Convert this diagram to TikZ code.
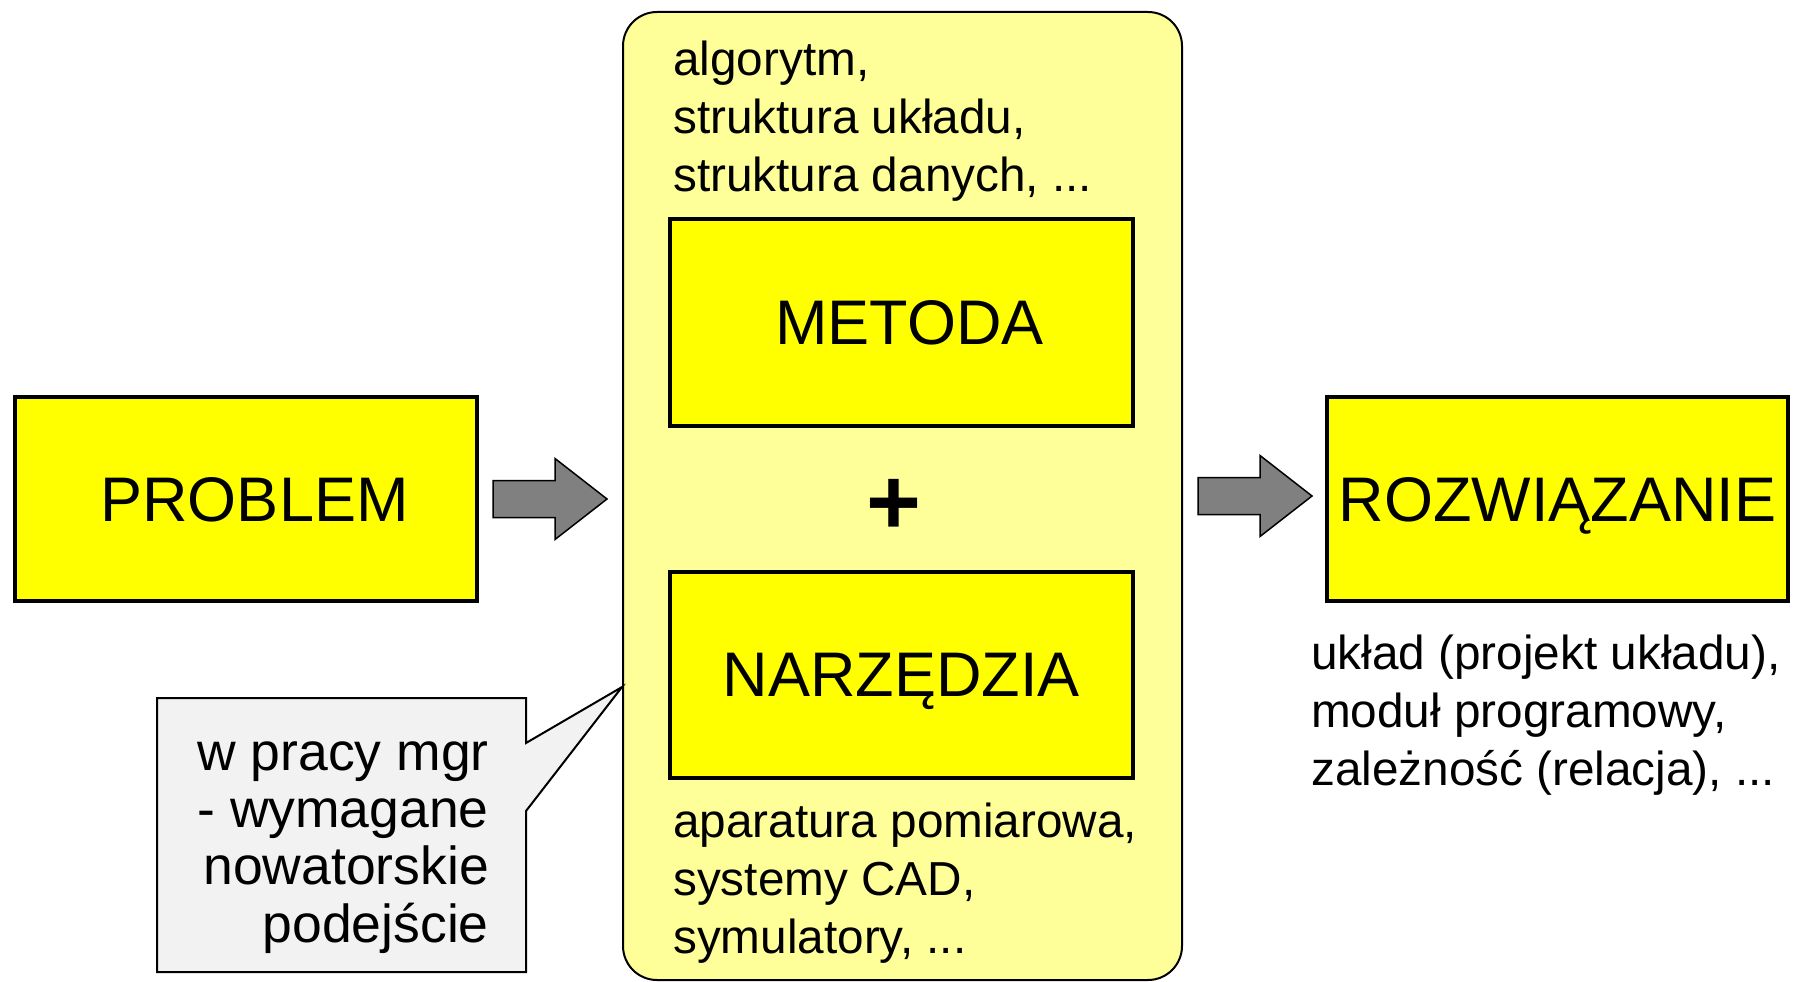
\documentclass[tikz,border=0pt]{standalone}
\usepackage{fontspec}
\setmainfont{Liberation Sans}
\usetikzlibrary{positioning}
\definecolor{boxyellow}{RGB}{255,255,0}
\definecolor{paleyellow}{RGB}{255,255,153}
\definecolor{notegray}{RGB}{242,242,242}
\definecolor{arrowgray}{RGB}{128,128,128}
\newcommand{\etcdots}{...}
\tikzstyle{block}=[draw=black, line width=4pt, fill=boxyellow, inner sep=0pt, text depth=0pt, font=\fontsize{63}{70}\selectfont]
\tikzstyle{panel}=[draw=black, line width=2pt, fill=paleyellow, rounded corners=34pt, inner sep=0pt]
\tikzstyle{note}=[draw=black, line width=2pt, fill=notegray, line join=miter]
\tikzstyle{item}=[inner sep=0pt, font=\fontsize{47.7}{57}\selectfont]
\tikzstyle{fat arrow}=[draw=black, line width=1.5pt, fill=arrowgray, line join=miter]
\tikzset{fatarrow/.pic={
  \draw[fat arrow] (0,-18.5) -- (62,-18.5) -- (62,-40.5) -- (114,0) -- (62,40.5) -- (62,18.5) -- (0,18.5) -- cycle;
}}

\begin{document}
\begin{tikzpicture}[x=1pt, y=-1pt]
    \useasboundingbox (0,0) rectangle (1793,982);

    \node[panel, minimum width=559pt, minimum height=968pt] (panel) at (902.5,496) {};

    \node[block, minimum width=462pt, minimum height=204pt] (problem)  at (246,499)    {\hspace{17pt}PROBLEM};
    \node[block, minimum width=463pt, minimum height=207pt] (metoda)   at (901.5,322.5) {\hspace{16pt}METODA};
    \node[block, minimum width=463pt, minimum height=206pt] (narzedzia) at (901.5,675)  {NARZĘDZIA};
    \node[block, minimum width=461pt, minimum height=204pt] (solution) at (1557.5,499) {ROZWIĄZANIE};
    \node[inner sep=0pt, font=\fontsize{94}{100}\selectfont\bfseries] (plus) at (894,507) {+};

    % texts around the boxes
    \foreach \txt [count=\i] in {{algorytm,},{struktura układu,},{struktura danych, \etcdots}}
      \node[item, anchor=base west] (methodinfo\i) at (673,16.6+58.4*\i) {\txt};
    \foreach \txt [count=\i] in {{aparatura pomiarowa,},{systemy CAD,},{symulatory, \etcdots}}
      \node[item, anchor=base west] (toolinfo\i) at (673,779+58*\i) {\txt};
    \foreach \txt [count=\i] in {{układ (projekt układu),},{moduł programowy,},{zależność (relacja), \etcdots}}
      \node[item, anchor=base west] (resultinfo\i) at (1311,611+58*\i) {\txt};

    % block arrows
    \coordinate[right=14pt of problem.east] (arrow1);
    \coordinate[right=15pt of panel.east] (arrow2);
    \pic at (arrow1) {fatarrow};
    \pic at (arrow2) {fatarrow};

    % callout
    \node[inner sep=0pt, outer sep=0pt, minimum width=369pt, minimum height=274pt] (note) at (341.5,835) {};
    \coordinate (tip) at ([yshift=-191pt]panel.west);
    \draw[note] (note.north west) -- (note.north east) -- ([yshift=-45pt]note.north east) -- (tip)
      -- ([yshift=-113pt]note.north east) -- (note.south east) -- (note.south west) -- cycle;
    \foreach \txt [count=\i] in {{w pracy mgr},{- wymagane},{nowatorskie},{podejście}}
      \node[item, anchor=base east, font=\fontsize{53.5}{57}\selectfont] (noteline\i) at (489,713+57.3*\i) {\txt};
  \end{tikzpicture}
\end{document}
